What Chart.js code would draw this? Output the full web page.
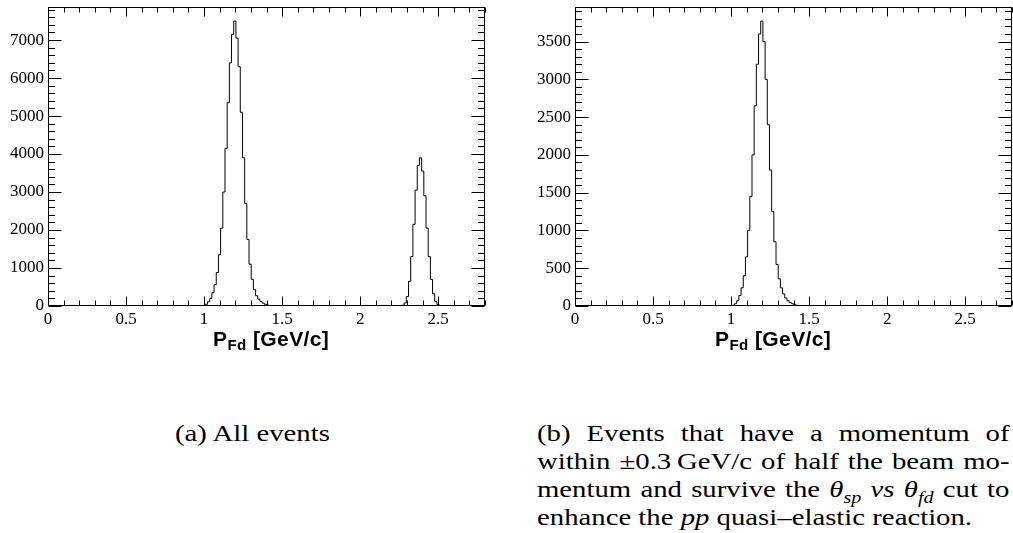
<!DOCTYPE html>
<html>
<head>
<meta charset="utf-8">
<script src="https://cdn.jsdelivr.net/npm/chart.js@4.4.1/dist/chart.umd.min.js"></script>
<style>
  body { margin: 0; background: #fff; }
  #page { position: relative; width: 1013px; height: 533px; overflow: hidden; }
  canvas { position: absolute; top: 0; }
  .axtitle { position: absolute; top: 328px; font: bold 21px "Liberation Sans", Arial, sans-serif; line-height: 21px; letter-spacing: 0.4px; white-space: nowrap; color: #000; }
  .axtitle sub { font-size: 72%; vertical-align: baseline; position: relative; top: 4px; }
  .cap { position: absolute; font: 23px "Liberation Serif", "Times New Roman", serif; line-height: 28px; color: #000;
         transform: scaleX(1.25); transform-origin: 0 0; }
  .cap .ln { white-space: nowrap; text-align: justify; text-align-last: justify; }
  .cap .ln.last { text-align-last: left; }
  .cap sub { font-size: 70%; line-height: 0; }
</style>
</head>
<body>
<div id="page">
  <canvas id="allChart" width="500" height="330" style="left:0"></canvas>
  <canvas id="cutChart" width="513" height="330" style="left:500px"></canvas>
  <div class="axtitle" style="left:213px">P<sub>Fd</sub> [GeV/c]</div>
  <div class="axtitle" style="left:715px">P<sub>Fd</sub> [GeV/c]</div>
  <div class="cap" style="left:175px; top:420px;">(a) All events</div>
  <div class="cap" style="left:537px; top:420px; width:378px;">
    <div class="ln">(b) Events that have a momentum of</div>
    <div class="ln">within ±0.3&#8201;GeV/c of half the beam mo-</div>
    <div class="ln">mentum and survive the <i>θ<sub>sp</sub> vs θ<sub>fd</sub></i> cut to</div>
    <div class="ln last">enhance the <i>pp</i> quasi–elastic reaction.</div>
  </div>
</div>
<script>
// Histogram binning (200 bins over 0 - 2.8 GeV/c)
const binWidth = 0.014;
const nBins = 200;
const xMax = 2.8;
const xTicks = [0, 0.5, 1, 1.5, 2, 2.5];
const allYTicks = [0, 1000, 2000, 3000, 4000, 5000, 6000, 7000];
const cutYTicks = [0, 500, 1000, 1500, 2000, 2500, 3000, 3500];

// (a) all events: quasi-free peak near 1.2 and beam-momentum peak near 2.38
const allPeak1Start = 0.980;
const allPeak1 = [5, 15, 45, 110, 200, 350, 560, 880, 1350, 2050, 3000, 4150, 5350, 6400, 7150, 7500,
  7050, 6300, 5100, 3900, 2700, 1750, 1100, 700, 430, 270, 180, 120, 75, 45, 25, 12, 5];
const allPeak2Start = 2.254;
const allPeak2 = [5, 20, 80, 250, 650, 1300, 2150, 3050, 3700, 3900, 3550, 2900, 2050, 1300, 700, 320, 120, 40, 10];

// (b) events after momentum and theta_sp vs theta_fd cuts
const cutPeakStart = 0.980;
const cutPeak = [0, 3, 10, 30, 70, 140, 240, 400, 650, 1000, 1450, 2000, 2650, 3200, 3600, 3770,
  3500, 3000, 2400, 1800, 1250, 850, 550, 360, 240, 160, 105, 70, 45, 30, 18, 10, 6, 3, 2];

// Build step-histogram points at bin low edges, closing at the upper edge
function histPoints(groups) {
  const counts = new Array(nBins).fill(0);
  groups.forEach(([start, vals]) => {
    const first = Math.round(start / binWidth);
    vals.forEach((v, i) => { counts[first + i] = v; });
  });
  const pts = counts.map((c, i) => ({ x: i * binWidth, y: c }));
  pts.push({ x: xMax, y: 0 });
  return pts;
}

// Frame with inward major/minor ticks on all four sides (ROOT style)
const framePlugin = {
  id: 'framePlugin',
  afterDraw(chart, args, opts) {
    const { ctx, chartArea: a, scales: { x, y } } = chart;
    ctx.save();
    ctx.strokeStyle = '#000';
    ctx.lineWidth = 1;
    const L = Math.round(a.left) + 0.5, R = Math.round(a.right) - 0.5;
    const T = Math.round(a.top) + 0.5, B = Math.round(a.bottom) - 0.5;
    ctx.strokeRect(L, T, R - L, B - T);
    ctx.beginPath();
    for (let k = 0; k * 0.1 <= xMax + 1e-9; k++) {
      const px = Math.round(x.getPixelForValue(k * 0.1)) + 0.5;
      const len = k % 5 === 0 ? 9 : 5;
      ctx.moveTo(px, B); ctx.lineTo(px, B - len);
      ctx.moveTo(px, T); ctx.lineTo(px, T + len);
    }
    for (let k = 0; k * opts.yMinor <= y.max; k++) {
      const py = Math.round(y.getPixelForValue(k * opts.yMinor)) + 0.5;
      const len = k % 5 === 0 ? 13 : 6.5;
      ctx.moveTo(L, py); ctx.lineTo(L + len, py);
      ctx.moveTo(R, py); ctx.lineTo(R - len, py);
    }
    ctx.stroke();
    ctx.restore();
  }
};
Chart.register(framePlugin);

function makeChart(id, points, yMax, yTicks, yMinor, yAxisWidth, padRight) {
  const tickFont = { family: '"Liberation Serif", "Times New Roman", serif', size: 17 };
  return new Chart(document.getElementById(id), {
    type: 'line',
    data: { datasets: [{ data: points, borderColor: '#000', borderWidth: 1, stepped: 'before', pointRadius: 0, fill: false }] },
    options: {
      responsive: false,
      animation: false,
      layout: { padding: { top: 7, right: padRight, left: 0, bottom: 0 } },
      scales: {
        x: {
          type: 'linear', min: 0, max: xMax,
          grid: { display: false, drawTicks: false }, border: { display: false },
          ticks: { maxRotation: 0, autoSkip: false, padding: 3, color: '#000', font: tickFont, callback: v => String(v) },
          afterBuildTicks(s) { s.ticks = xTicks.map(v => ({ value: v })); },
          afterFit(s) { s.height = 24; s.paddingLeft = 0; s.paddingRight = 0; }
        },
        y: {
          type: 'linear', min: 0, max: yMax,
          grid: { display: false, drawTicks: false }, border: { display: false },
          ticks: { padding: 4, autoSkip: false, color: '#000', font: tickFont, callback: v => String(v) },
          afterBuildTicks(s) { s.ticks = yTicks.map(v => ({ value: v })); },
          afterFit(s) { s.width = yAxisWidth; s.paddingTop = 0; s.paddingBottom = 0; }
        }
      },
      plugins: { legend: { display: false }, tooltip: { enabled: false }, framePlugin: { yMinor: yMinor } }
    }
  });
}

makeChart('allChart', histPoints([[allPeak1Start, allPeak1], [allPeak2Start, allPeak2]]), 7870, allYTicks, 200, 48, 15);
makeChart('cutChart', histPoints([[cutPeakStart, cutPeak]]), 3958, cutYTicks, 100, 75, 1);
</script>
</body>
</html>
